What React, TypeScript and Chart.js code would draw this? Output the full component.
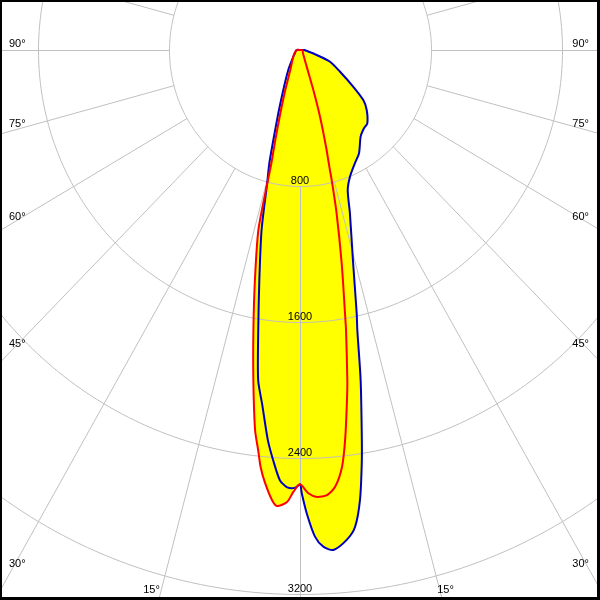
import React, { useEffect, useRef } from 'react';
import { Chart, registerables } from 'chart.js';

Chart.register(...registerables);

// Polar luminous intensity curves: angle from nadir (deg, + = right), intensity (cd)
const blueAngles = [-180, -90, -60, -46, -31.3, -23.5, -19.6, -17.1, -15.7, -14.4, -12.5, -10.4, -8.8, -7.5, -6.3, -4.9, -3.9, -2.8, -1.8, -0.7, 0, 0.23, 0.86, 1.83, 2.79, 3.96, 5.65, 6.83, 7.88, 8.9, 9.57, 10.8, 12.0, 12.6, 14.5, 17.6, 19.5, 22.3, 26.7, 30.7, 36, 40.3, 43.6, 49.1, 52.7, 56.4, 62.4, 69.4, 73.9, 90, 180];
const blueValues = [0, 22, 35, 57, 138, 256, 395, 554, 692, 805, 1084, 1376, 1667, 1958, 2100, 2302, 2417, 2532, 2572, 2576, 2555, 2606, 2725, 2864, 2925, 2948, 2896, 2826, 2672, 2441, 2267, 1976, 1684, 1587, 1296, 1008, 873, 805, 746, 706, 630, 604, 596, 539, 486, 391, 276, 196, 106, 25, 0];

const redAngles = [-180, -90, -60, -38, -26.7, -20.9, -17.9, -15.9, -14.7, -14.3, -13.5, -11.5, -9.8, -8.35, -7.0, -6.2, -5.6, -4.85, -3.7, -3.0, -1.7, -0.9, 0, 1.07, 2.26, 3.6, 4.75, 5.97, 6.9, 7.93, 8.47, 9.68, 10.06, 11.47, 13.1, 14.2, 14.5, 15.6, 17.3, 19.1, 22.6, 45, 90, 180];
const redValues = [0, 18, 40, 75, 132, 252, 391, 550, 689, 806, 1089, 1381, 1672, 1962, 2252, 2367, 2465, 2550, 2653, 2686, 2660, 2600, 2555, 2606, 2631, 2623, 2580, 2466, 2300, 2079, 1962, 1671, 1573, 1280, 986, 789, 729, 591, 411, 249, 106, 25, 15, 0];

const ringValues = [800, 1600, 2400, 3200];
const ringLabels = ['800', '1600', '2400', '3200'];
const rayStepDeg = 15;
const sideAngles = [90, 75, 60, 45, 30];
const sideLabels = ['90°', '75°', '60°', '45°', '30°'];
const bottomAngles = [15];
const bottomLabels = ['15°'];

const toXY = (angles: number[], values: number[]) =>
  angles.map((a, i) => {
    const r = (a * Math.PI) / 180;
    return { x: values[i] * Math.sin(r), y: values[i] * Math.cos(r) };
  });

const GRID_COLOR = '#c0c0c0';
const FONT = '11px "Liberation Sans", Arial, sans-serif';
const TENSION = 0.25;

const polarGrid = {
  id: 'polarGrid',
  afterDatasetDraw(chart: any, args: any) {
    if (args.index !== 2) return;
    const ctx = chart.ctx;
    const xs = chart.scales.x;
    const ys = chart.scales.y;
    const area = chart.chartArea;
    const px = (I: number, deg: number) => {
      const r = (deg * Math.PI) / 180;
      return [xs.getPixelForValue(I * Math.sin(r)), ys.getPixelForValue(I * Math.cos(r))];
    };
    ctx.save();
    ctx.beginPath();
    ctx.rect(area.left, area.top, area.right - area.left, area.bottom - area.top);
    ctx.clip();
    ctx.translate(0.5, 0.5);
    ctx.strokeStyle = GRID_COLOR;
    ctx.lineWidth = 1;
    for (const ring of ringValues) {
      ctx.beginPath();
      for (let d = 0; d <= 360; d += 1) {
        const [x, y] = px(ring, d);
        if (d === 0) ctx.moveTo(x, y);
        else ctx.lineTo(x, y);
      }
      ctx.stroke();
    }
    for (let a = -180; a < 180; a += rayStepDeg) {
      const [x0, y0] = px(ringValues[0], a);
      const [x1, y1] = px(ringValues[ringValues.length - 1] * 3, a);
      ctx.beginPath();
      ctx.moveTo(x0, y0);
      ctx.lineTo(x1, y1);
      ctx.stroke();
    }
    ctx.restore();
  },
  afterDraw(chart: any) {
    const ctx = chart.ctx;
    const xs = chart.scales.x;
    const ys = chart.scales.y;
    const W = chart.width;
    const H = chart.height;
    ctx.save();
    ctx.fillStyle = '#000';
    ctx.font = FONT;
    ctx.textBaseline = 'alphabetic';
    ctx.textAlign = 'center';
    ringValues.forEach((v, i) => {
      ctx.fillText(ringLabels[i], xs.getPixelForValue(0), ys.getPixelForValue(v) - 2);
    });
    sideAngles.forEach((A, i) => {
      const r = (A * Math.PI) / 180;
      const xvL = xs.getValueForPixel(11);
      const tL = xvL / -Math.sin(r);
      const yL = ys.getPixelForValue(tL * Math.cos(r));
      ctx.textAlign = 'left';
      ctx.fillText(sideLabels[i], 9, yL - 3);
      const xvR = xs.getValueForPixel(W - 11);
      const tR = xvR / Math.sin(r);
      const yR = ys.getPixelForValue(tR * Math.cos(r));
      ctx.textAlign = 'right';
      ctx.fillText(sideLabels[i], W - 11, yR - 3);
    });
    bottomAngles.forEach((A, i) => {
      const r = (A * Math.PI) / 180;
      const base = H - 7;
      const yv = ys.getValueForPixel(base);
      const t = yv / Math.cos(r);
      const xl = xs.getPixelForValue(-t * Math.sin(r));
      const xr = xs.getPixelForValue(t * Math.sin(r));
      ctx.textAlign = 'right';
      ctx.fillText(bottomLabels[i], xl, base);
      ctx.textAlign = 'left';
      ctx.fillText(bottomLabels[i], xr - 3, base);
    });
    ctx.fillStyle = '#000';
    ctx.fillRect(0, 0, W, 2);
    ctx.fillRect(0, 0, 2, H);
    ctx.fillRect(0, H - 3, W, 3);
    ctx.fillRect(W - 3, 0, 3, H);
    ctx.restore();
  },
};

export default function App() {
  const canvasRef = useRef<HTMLCanvasElement | null>(null);
  useEffect(() => {
    document.body.style.margin = '0';
    const canvas = canvasRef.current;
    if (!canvas) return;
    const redPts = toXY(redAngles, redValues);
    const bluePts = toXY(blueAngles, blueValues);
    const chart = new Chart(canvas, {
      type: 'scatter',
      data: {
        datasets: [
          {
            data: redPts,
            showLine: true,
            borderColor: '#ff0000',
            borderWidth: 2,
            pointRadius: 0,
            fill: false,
            order: 0,
            tension: TENSION,
            borderJoinStyle: 'round',
          } as any,
          {
            data: bluePts,
            showLine: true,
            borderColor: '#0000c0',
            borderWidth: 2,
            pointRadius: 0,
            fill: false,
            order: 1,
            tension: TENSION,
            borderJoinStyle: 'round',
          } as any,
          {
            data: redPts,
            showLine: true,
            borderColor: 'rgba(0,0,0,0)',
            borderWidth: 0,
            backgroundColor: '#ffff00',
            pointRadius: 0,
            fill: 'shape',
            order: 2,
            tension: TENSION,
          } as any,
          {
            data: bluePts,
            showLine: true,
            borderColor: 'rgba(0,0,0,0)',
            borderWidth: 0,
            backgroundColor: '#ffff00',
            pointRadius: 0,
            fill: 'shape',
            order: 3,
            tension: TENSION,
          } as any,
        ],
      },
      options: {
        animation: false,
        responsive: false,
        devicePixelRatio: 1,
        layout: { padding: 0 },
        plugins: { legend: { display: false }, tooltip: { enabled: false } },
        scales: {
          x: { type: 'linear', display: false, min: -300 / 0.16375, max: 300 / 0.16375 },
          y: { type: 'linear', display: false, reverse: true, min: -50 / 0.17, max: 550 / 0.17 },
        },
      },
      plugins: [polarGrid],
    });
    return () => chart.destroy();
  }, []);
  return (
    <div style={{ width: 600, height: 600, background: '#fff' }}>
      <canvas ref={canvasRef} width={600} height={600} style={{ display: 'block' }} />
    </div>
  );
}
